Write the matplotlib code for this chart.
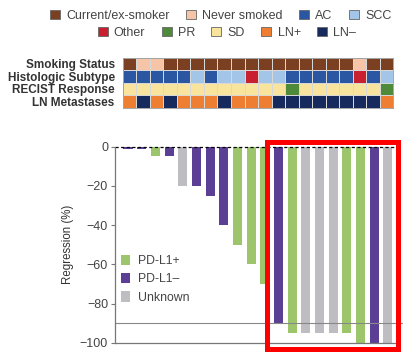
import matplotlib
matplotlib.use('Agg')
import matplotlib.pyplot as plt
from matplotlib.colors import ListedColormap
from matplotlib.patches import Patch, Rectangle
import numpy as np

plt.rcParams['font.family'] = ['Liberation Sans', 'DejaVu Sans']

# heatmap categories, one per patient (left to right)
smoking = ['Cur', 'Nev', 'Nev', 'Cur', 'Cur', 'Cur', 'Cur', 'Cur', 'Cur', 'Cur',
           'Cur', 'Cur', 'Cur', 'Cur', 'Cur', 'Cur', 'Cur', 'Nev', 'Cur', 'Cur']
histology = ['AC', 'AC', 'AC', 'AC', 'AC', 'SCC', 'AC', 'SCC', 'SCC', 'Other',
             'SCC', 'SCC', 'AC', 'AC', 'AC', 'AC', 'AC', 'Other', 'AC', 'SCC']
recist = ['SD', 'SD', 'SD', 'SD', 'SD', 'SD', 'SD', 'SD', 'SD', 'SD',
          'SD', 'SD', 'PR', 'SD', 'SD', 'SD', 'SD', 'SD', 'SD', 'PR']
ln_status = ['LN+', 'LN-', 'LN+', 'LN-', 'LN+', 'LN+', 'LN+', 'LN-', 'LN+', 'LN+',
             'LN+', 'LN-', 'LN-', 'LN-', 'LN-', 'LN-', 'LN-', 'LN-', 'LN-', 'LN+']
row_labels = ['Smoking Status', 'Histologic Subtype', 'RECIST Response', 'LN Metastases']

# waterfall
regression = [-1, -1, -5, -5, -20, -20, -25, -40, -50, -60,
              -70, -90, -95, -95, -95, -95, -95, -100, -100, -100]
pdl1 = ['neg', 'neg', 'pos', 'neg', 'unk', 'neg', 'neg', 'neg', 'pos', 'pos',
        'pos', 'neg', 'pos', 'unk', 'unk', 'unk', 'pos', 'pos', 'neg', 'unk']
yticks = [0, -20, -40, -60, -80, -100]

cat_keys = ['Cur', 'Nev', 'AC', 'SCC', 'Other', 'PR', 'SD', 'LN+', 'LN-']
cat_names = ['Current/ex-smoker', 'Never smoked', 'AC', 'SCC',
             'Other', 'PR', 'SD', 'LN+', 'LN\u2013']
cat_colors = ['#7b3f22', '#f6c4a6', '#2a56a2', '#a3c5e8',
              '#c8202e', '#4e8a3a', '#f8e49c', '#ee7e32', '#172a5e']
pd_colors = {'pos': '#9dc66c', 'neg': '#5b3f95', 'unk': '#bdbdc2'}
pd_names = {'pos': 'PD-L1+', 'neg': 'PD-L1\u2013', 'unk': 'Unknown'}

fig = plt.figure(figsize=(4.03, 3.61), dpi=100)

# --- top legend, two centred rows
handles = [Patch(facecolor=c, edgecolor='#666666', linewidth=0.6) for c in cat_colors]
leg_kw = dict(frameon=False, handlelength=0.8, handleheight=0.8, handletextpad=0.5,
              columnspacing=1.3, borderpad=0, borderaxespad=0, prop={'size': 9},
              labelcolor='#444444')
fig.legend(handles[:4], cat_names[:4], loc='center', ncol=4,
           bbox_to_anchor=(0.548, 0.956), **leg_kw)
fig.legend(handles[4:], cat_names[4:], loc='center', ncol=5,
           bbox_to_anchor=(0.563, 0.909), **leg_kw)

# --- heatmap
hm = fig.add_axes([0.3052, 0.7017, 0.670, 0.1385])
mat = np.array([[cat_keys.index(v) for v in row]
                for row in [smoking, histology, recist, ln_status]])
hm.pcolormesh(mat, cmap=ListedColormap(cat_colors), vmin=-0.5, vmax=len(cat_keys) - 0.5,
              edgecolors='#d8d8d8', linewidth=0.5)
hm.set_xlim(0, len(smoking))
hm.set_ylim(4, 0)
hm.set_xticks([])
hm.set_yticks(np.arange(4) + 0.5)
hm.set_yticklabels(row_labels, fontsize=8.5, fontweight='bold', color='#333333')
hm.tick_params(axis='y', length=0, pad=6)
for s in hm.spines.values():
    s.set_color('#999999')
    s.set_linewidth(0.6)

# --- waterfall
ax = fig.add_axes([0.2854, 0.0499, 0.6948, 0.5438])
x = np.arange(len(regression))
ax.bar(x, regression, width=0.66, color=[pd_colors[p] for p in pdl1])
ax.set_xlim(-0.95, 19.52)
ax.set_ylim(-100, 0)
ax.set_yticks(yticks)
ax.set_yticklabels(['0'] + ['\u2212%d' % -t for t in yticks[1:]], fontsize=9, color='#444444')
ax.set_xticks([])
ax.tick_params(axis='y', length=3, width=0.8, color='#777777', pad=2)
ax.set_ylabel('Regression (%)', fontsize=8.3, color='#333333', labelpad=4)
for side in ['top', 'right']:
    ax.spines[side].set_visible(False)
ax.spines['left'].set_color('#777777')
ax.spines['bottom'].set_color('#777777')
ax.spines['left'].set_linewidth(0.9)
ax.spines['bottom'].set_linewidth(0.9)
ax.axhline(0, color='black', linewidth=0.9, linestyle=(0, (2.5, 2)), clip_on=False)
ax.axhline(-90, xmin=0, xmax=1.03, color='#888888', linewidth=0.8, clip_on=False)

leg_handles = [Patch(facecolor=pd_colors[k]) for k in ['pos', 'neg', 'unk']]
ax.legend(leg_handles, [pd_names[k] for k in ['pos', 'neg', 'unk']], loc='upper left',
          bbox_to_anchor=(0.02, 0.45), frameon=False, fontsize=8.8, labelcolor='#444444',
          handlelength=0.8, handleheight=0.9, handletextpad=0.6, labelspacing=0.5,
          borderpad=0, borderaxespad=0)

# red highlight box
fig.patches.append(Rectangle((266.7 / 403, 1 - 348.7 / 361), (397.5 - 266.7) / 403,
                             (348.7 - 142) / 361, transform=fig.transFigure,
                             fill=False, edgecolor='#ff0000', linewidth=3.6, zorder=10))

fig.savefig('out.png', dpi=100)
